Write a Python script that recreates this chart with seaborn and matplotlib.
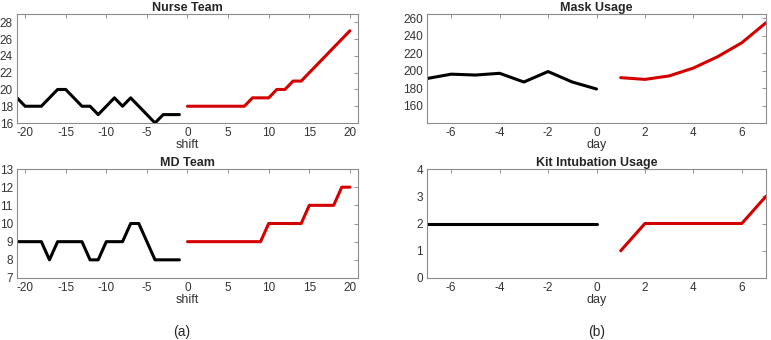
import numpy as np
import pandas as pd
import matplotlib.pyplot as plt
import seaborn as sns

# Nurse team (shift)
nurse_hist_x = list(range(-21, 0))
nurse_hist_y = [19, 18, 18, 18, 19, 20, 20, 19, 18, 18, 17, 18, 19, 18, 19, 18, 17, 16, 17, 17, 17]
nurse_pred_x = list(range(0, 21))
nurse_pred_y = [18, 18, 18, 18, 18, 18, 18, 18, 19, 19, 19, 20, 20, 21, 21, 22, 23, 24, 25, 26, 27]

# MD team (shift)
md_hist_x = list(range(-21, 0))
md_hist_y = [9, 9, 9, 9, 8, 9, 9, 9, 9, 8, 8, 9, 9, 9, 10, 10, 9, 8, 8, 8, 8]
md_pred_x = list(range(0, 21))
md_pred_y = [9, 9, 9, 9, 9, 9, 9, 9, 9, 9, 10, 10, 10, 10, 10, 11, 11, 11, 11, 12, 12]

# Mask usage (day)
mask_hist_x = list(range(-7, 1))
mask_hist_y = [191, 196, 195, 197, 187, 199, 187, 179]
mask_pred_x = list(range(1, 8))
mask_pred_y = [192, 190, 194, 203, 216, 232, 255]

# Kit intubation usage (day)
kit_hist_x = list(range(-7, 1))
kit_hist_y = [2, 2, 2, 2, 2, 2, 2, 2]
kit_pred_x = list(range(1, 8))
kit_pred_y = [1, 2, 2, 2, 2, 2, 3]

sns.set_style("white")
plt.rcParams['font.family'] = ['Liberation Sans', 'DejaVu Sans']
plt.rcParams['axes.unicode_minus'] = False

fig = plt.figure(figsize=(7.71, 3.40), dpi=100)
W, H = 771, 340

def make_ax(x0, y0, x1, y1):
    return fig.add_axes([x0 / W, 1 - y1 / H, (x1 - x0) / W, (y1 - y0) / H])

ax_nurse = make_ax(17, 14, 358, 123)
ax_md = make_ax(17, 169, 358, 278)
ax_mask = make_ax(427, 14, 766, 123)
ax_kit = make_ax(427, 169, 766, 278)

panels = [
    (ax_nurse, nurse_hist_x, nurse_hist_y, nurse_pred_x, nurse_pred_y, 'Nurse Team', 'shift',
     (-21, 21), (16, 29), [-20, -15, -10, -5, 0, 5, 10, 15, 20], range(16, 29, 2)),
    (ax_md, md_hist_x, md_hist_y, md_pred_x, md_pred_y, 'MD Team', 'shift',
     (-21, 21), (7, 13), [-20, -15, -10, -5, 0, 5, 10, 15, 20], range(7, 14)),
    (ax_mask, mask_hist_x, mask_hist_y, mask_pred_x, mask_pred_y, 'Mask Usage', 'day',
     (-7, 7), (140, 265), range(-6, 7, 2), range(160, 261, 20)),
    (ax_kit, kit_hist_x, kit_hist_y, kit_pred_x, kit_pred_y, 'Kit Intubation Usage', 'day',
     (-7, 7), (0, 4), range(-6, 7, 2), range(0, 5)),
]

for ax, hx, hy, px, py, title, xlabel, xlim, ylim, xt, yt in panels:
    sns.lineplot(x=hx, y=hy, ax=ax, color='black', linewidth=2.2)
    sns.lineplot(x=px, y=py, ax=ax, color='#d40000', linewidth=2.2)
    ax.set_xlim(*xlim)
    ax.set_ylim(*ylim)
    ax.set_xticks(list(xt))
    ax.set_yticks(list(yt))
    ax.set_title(title, fontsize=9, fontweight='bold', pad=2)
    ax.set_xlabel(xlabel, fontsize=9, color='#333333', labelpad=0)
    ax.set_ylabel('')
    ax.tick_params(direction='in', length=3, labelsize=8.5, labelcolor='#333333',
                   top=True, right=True, pad=3, width=0.6, color='#7f7f7f')
    for s in ax.spines.values():
        s.set_color('#8c8c8c')
        s.set_linewidth(0.8)

fig.text(182 / W, 1 - 332 / H, '(a)', ha='center', va='center', fontsize=10)
fig.text(597 / W, 1 - 332 / H, '(b)', ha='center', va='center', fontsize=10)

fig.savefig('out.png', dpi=100)
